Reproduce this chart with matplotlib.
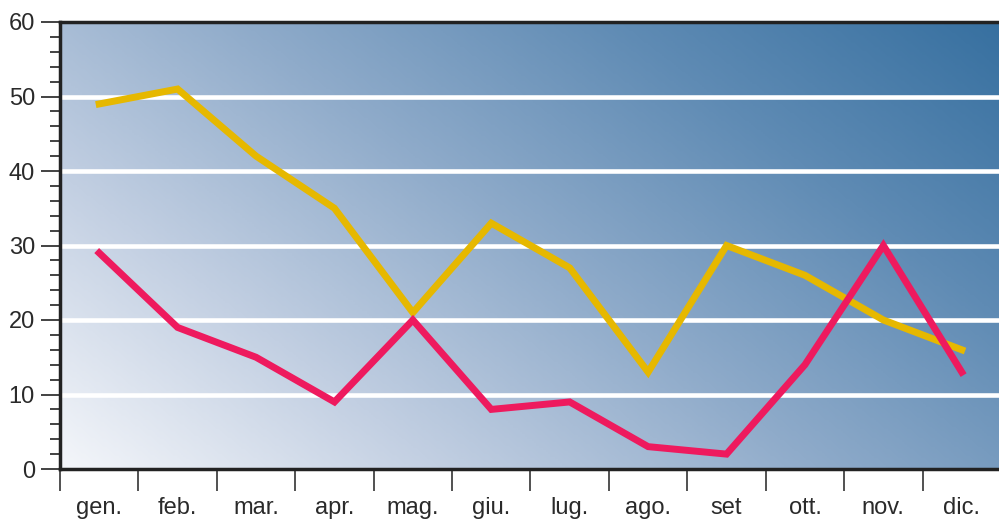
import matplotlib
matplotlib.use('Agg')
import matplotlib.pyplot as plt
import numpy as np
from matplotlib.colors import LinearSegmentedColormap
from matplotlib.ticker import MultipleLocator, FixedLocator

# data
months = ['gen.', 'feb.', 'mar.', 'apr.', 'mag.', 'giu.', 'lug.', 'ago.', 'set', 'ott.', 'nov.', 'dic.']
yellow_vals = [49, 51, 42, 35, 21, 33, 27, 13, 30, 26, 20, 16]
red_vals = [29, 19, 15, 9, 20, 8, 9, 3, 2, 14, 30, 13]

plt.rcParams['font.family'] = ['Liberation Sans', 'DejaVu Sans']

fig = plt.figure(figsize=(9.99, 5.19), dpi=100)
ax = fig.add_axes([60 / 999, 50 / 519, 1 - 60 / 999 + 0.002, 447 / 519])

# diagonal gradient background
gx, gy = np.meshgrid(np.linspace(0, 1, 400), np.linspace(0, 1, 200))
t = 0.62 * gx + 0.38 * gy
cmap = LinearSegmentedColormap.from_list('bg', ['#f4f6fa', '#c2cfe2', '#8fabca', '#5f8bb4', '#3770a0'])
ax.imshow(t, cmap=cmap, extent=[0, 1, 0, 1], origin='lower', aspect='auto',
          transform=ax.transAxes, zorder=0, interpolation='bilinear')

x = np.arange(len(months))
for yv in [10, 20, 30, 40, 50]:
    ax.axhline(yv, color='white', linewidth=3.3, zorder=1)

ax.plot(x, yellow_vals, color='#e6b800', linewidth=5, zorder=3, solid_joinstyle='miter')
ax.plot(x, red_vals, color='#ee1a5e', linewidth=5, zorder=3, solid_joinstyle='miter')

ax.set_xlim(-0.5, 11.5)
ax.set_ylim(0, 60)

ax.yaxis.set_major_locator(MultipleLocator(10))
ax.yaxis.set_minor_locator(MultipleLocator(2))
ax.tick_params(axis='y', which='major', length=14, width=1.2, labelsize=17, color='#222222',
               labelcolor='#2a2a2a', pad=4)
ax.tick_params(axis='y', which='minor', length=7, width=1.2, color='#222222')

ax.xaxis.set_major_locator(FixedLocator(np.arange(-0.5, 11.6, 1)))
ax.xaxis.set_minor_locator(FixedLocator(x))
ax.xaxis.set_major_formatter(plt.NullFormatter())
ax.xaxis.set_minor_formatter(plt.FixedFormatter(months))
ax.tick_params(axis='x', which='major', length=16, width=1.2, color='#333333')
ax.tick_params(axis='x', which='minor', length=0, labelsize=17, labelcolor='#2a2a2a', pad=20)

for side in ['left', 'bottom', 'top']:
    ax.spines[side].set_linewidth(2.5)
    ax.spines[side].set_color('#222222')
ax.spines['right'].set_visible(False)

fig.savefig('out.png', dpi=100)
